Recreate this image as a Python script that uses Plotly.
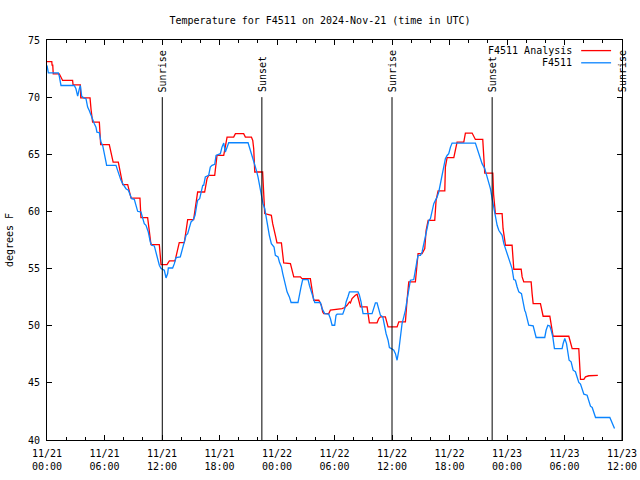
import pandas as pd
import plotly.graph_objects as go

# ---------------- data ----------------
BASE = "2024-11-21 00:00"

obs_hours = [0.0, 0.14, 1.18, 1.28, 1.46, 2.85, 3.02, 3.2, 3.37, 3.48, 3.62, 3.82, 4.07, 4.24, 4.41, 4.59, 4.76, 4.94,
             5.11, 5.21, 5.46, 5.63, 5.81, 5.98, 6.16, 6.22, 7.2, 7.37, 7.55, 7.72, 7.9, 8.07, 8.24, 8.49, 8.7, 8.83,
             9.11, 9.29, 9.46, 9.81, 9.98, 10.15, 10.33, 10.57, 10.78, 10.92, 11.2, 11.37, 11.55, 11.72, 11.9, 12.24,
             12.42, 12.59, 12.66, 13.11, 13.29, 13.46, 13.91, 14.05, 14.16, 14.33, 14.51, 14.68, 14.86, 15.03, 15.27,
             15.45, 15.62, 15.72, 15.93, 16.07, 16.25, 16.35, 16.52, 16.87, 17.04, 17.22, 17.5, 17.64, 18.09, 18.26,
             18.44, 18.61, 18.79, 18.96, 20.98, 21.12, 21.33, 21.47, 21.68, 21.85, 22.02, 22.19, 22.37, 22.54, 22.72,
             22.86, 23.07, 23.2, 23.41, 23.69, 23.83, 24.11, 24.25, 24.46, 24.6, 24.81, 25.05, 25.29, 25.47, 26.19,
             26.33, 26.51, 26.68, 27.24, 27.38, 27.59, 27.83, 27.94, 28.53, 28.7, 28.98, 29.4, 29.57, 29.75, 30.02,
             30.16, 30.27, 30.86, 31.07, 31.21, 31.42, 31.56, 32.46, 32.6, 32.77, 32.98, 33.92, 34.1, 34.27, 34.44,
             34.62, 34.79, 35.04, 35.24, 35.38, 35.59, 35.73, 35.94, 36.19, 36.36, 36.53, 36.71, 36.88, 37.05, 37.23,
             37.4, 37.57, 37.75, 37.92, 38.27, 38.44, 38.62, 38.72, 38.97, 39.14, 39.31, 39.49, 39.66, 39.84, 40.01,
             40.19, 40.36, 40.53, 40.71, 40.88, 41.05, 41.23, 41.4, 41.57, 41.75, 41.92, 42.1, 42.27, 44.7, 44.88,
             45.05, 45.4, 45.68, 45.82, 46.03, 46.27, 46.45, 46.62, 46.79, 46.97, 47.14, 47.32, 47.49, 47.67, 47.84,
             48.01, 48.19, 48.36, 48.53, 48.71, 48.88, 49.06, 49.23, 49.51, 49.65, 49.86, 49.93, 50.1, 50.27, 50.73,
             50.87, 51.04, 51.94, 52.08, 52.26, 52.47, 52.61, 52.78, 52.95, 53.75, 53.86, 54.03, 54.21, 54.34, 54.48,
             54.69, 54.9, 55.14, 55.32, 55.49, 55.67, 55.84, 56.02, 56.36, 56.54, 56.71, 56.89, 57.06, 57.24, 58.73,
             58.9, 59.08, 59.22]
obs_temps = [72.77, 72.13, 72.13, 71.84, 71.02, 71.02, 70.73, 70.09, 70.73, 71.02, 70.09, 69.94, 69.86, 69.13, 68.84,
             68.4, 67.96, 67.67, 67.38, 66.94, 66.89, 66.07, 65.78, 65.19, 64.32, 64.03, 64.03, 63.59, 63.01, 62.72,
             62.43, 62.14, 61.99, 61.85, 61.27, 61.12, 61.06, 60.39, 60.01, 59.95, 59.37, 58.93, 58.78, 58.2, 57.33,
             57.04, 56.98, 56.46, 56.02, 55.29, 55.0, 54.85, 54.18, 54.56, 55.05, 55.05, 55.43, 55.96, 56.02, 56.46,
             56.75, 57.19, 57.91, 58.05, 58.55, 59.08, 59.28, 59.66, 60.53, 60.97, 61.12, 61.7, 62.28, 62.28, 63.01,
             63.16, 63.88, 64.03, 64.12, 64.9, 65.05, 65.63, 65.98, 65.19, 65.63, 66.01, 66.01, 65.63, 65.05, 64.61,
             64.18, 63.59, 63.01, 62.14, 61.26, 60.68, 60.24, 59.51, 58.64, 57.91, 57.18, 56.89, 56.16, 56.02, 55.58,
             55.14, 54.56, 53.69, 52.96, 52.52, 52.03, 52.03, 52.52, 53.39, 54.04, 54.04, 53.54, 52.96, 52.23, 52.03,
             52.03, 51.5, 51.06, 51.01, 50.63, 50.04, 50.04, 50.92, 51.01, 51.01, 51.5, 52.08, 52.58, 52.96, 52.96,
             52.67, 52.08, 51.06, 51.06, 51.5, 52.0, 52.0, 51.36, 50.92, 50.77, 49.9, 49.32, 48.73, 48.09, 48.0, 47.85,
             47.56, 46.98, 47.85, 49.02, 50.19, 50.77, 51.36, 52.23, 53.39, 53.98, 54.04, 54.71, 55.73, 56.16, 56.16,
             56.45, 57.18, 57.91, 58.79, 59.22, 59.37, 60.1, 60.68, 60.97, 61.26, 61.7, 62.43, 62.86, 63.74, 64.61,
             64.9, 65.05, 65.63, 65.98, 65.98, 65.49, 65.05, 64.18, 63.74, 63.3, 62.72, 61.99, 61.12, 60.24, 59.51,
             58.79, 58.35, 58.06, 57.91, 57.18, 56.75, 56.31, 56.02, 55.58, 55.0, 54.04, 53.98, 53.39, 52.96, 52.81,
             52.08, 51.3, 51.21, 50.48, 50.04, 49.98, 49.46, 48.97, 48.97, 49.6, 50.04, 49.98, 49.6, 49.02, 48.0, 48.0,
             48.44, 48.88, 48.44, 47.71, 46.98, 46.84, 46.11, 45.97, 45.53, 45.04, 44.89, 44.37, 44.01, 43.92, 43.49,
             42.96, 42.85, 42.38, 41.97, 41.97, 41.68, 41.31, 41.0]

ana_hours = [0.0, 0.5, 0.53, 0.6, 0.65, 1.28, 1.63, 2.67, 2.72, 3.48, 3.52, 4.49, 4.6, 4.76, 5.46, 5.6, 6.5, 6.9, 7.44,
             7.9, 8.42, 8.77, 9.7, 9.8, 10.5, 10.85, 11.72, 11.9, 12.52, 12.77, 13.36, 13.8, 14.33, 14.68, 15.3, 15.72,
             15.83, 16.45, 16.7, 16.87, 17.5, 17.64, 17.74, 18.44, 18.61, 18.79, 19.48, 19.66, 20.52, 20.7, 21.33,
             21.47, 21.57, 21.68, 22.5, 22.58, 22.72, 23.41, 23.55, 23.83, 24.0, 24.46, 24.6, 24.7, 25.4, 25.57, 25.75,
             26.44, 26.61, 27.48, 27.66, 27.83, 28.36, 28.63, 28.77, 28.88, 29.4, 29.57, 30.79, 31.07, 31.31, 31.56,
             31.66, 31.83, 32.18, 32.36, 32.53, 32.7, 33.4, 33.57, 33.64, 34.44, 34.62, 34.79, 35.31, 35.59, 36.53,
             36.71, 37.4, 37.57, 37.75, 38.44, 38.62, 38.72, 39.14, 39.42, 39.56, 39.77, 40.46, 40.6, 40.81, 41.51,
             41.57, 41.75, 42.45, 42.62, 42.79, 43.49, 43.66, 44.36, 44.7, 45.47, 45.68, 46.52, 46.6, 46.79, 47.49,
             47.59, 47.73, 47.84, 48.53, 48.64, 48.71, 49.48, 49.58, 49.75, 50.52, 50.62, 50.73, 51.49, 51.66, 51.77,
             52.47, 52.61, 52.81, 54.45, 54.56, 54.8, 55.49, 55.6, 55.67, 56.02, 56.19, 56.54, 57.48]
ana_temps = [73.1, 73.1, 72.8, 72.8, 72.04, 72.04, 71.46, 71.46, 71.08, 71.08, 69.94, 69.94, 68.9, 67.82, 67.82, 65.84,
             65.84, 64.32, 64.32, 62.34, 62.34, 61.17, 61.17, 59.46, 59.46, 57.1, 57.1, 55.35, 55.35, 55.67, 55.67,
             57.27, 57.27, 59.28, 59.28, 61.7, 61.7, 61.7, 62.86, 63.16, 63.16, 64.18, 64.9, 64.9, 65.78, 66.51, 66.51,
             66.8, 66.8, 66.51, 66.51, 66.21, 65.49, 63.45, 63.45, 61.55, 59.81, 59.66, 58.93, 57.91, 57.24, 57.24,
             56.31, 55.49, 55.43, 54.85, 54.27, 54.27, 54.12, 54.12, 53.1, 52.23, 52.23, 51.79, 51.21, 51.06, 51.06,
             51.36, 51.5, 51.59, 51.79, 52.08, 52.0, 52.37, 52.67, 52.75, 52.23, 51.65, 51.65, 50.77, 50.25, 50.25,
             50.63, 50.77, 50.77, 49.9, 49.9, 50.34, 50.34, 52.23, 53.83, 53.83, 55.14, 56.31, 56.31, 56.75, 58.35,
             59.22, 59.22, 60.97, 61.79, 61.79, 63.88, 64.7, 64.7, 65.49, 66.07, 66.07, 66.86, 66.86, 66.3, 66.3,
             63.36, 63.36, 61.5, 59.81, 59.81, 58.49, 57.33, 57.04, 57.04, 55.87, 54.94, 54.94, 54.27, 53.83, 53.83,
             52.81, 51.94, 51.94, 51.21, 50.83, 50.83, 50.04, 49.08, 49.08, 48.73, 48.0, 48.0, 46.4, 45.3, 45.3, 45.53,
             45.62, 45.65]

sun_hours = [12.03, 22.42, 36.0, 46.45, 60.0]
sun_labels = ["Sunrise", "Sunset", "Sunrise", "Sunset", "Sunrise"]
SUN_LINE_TOP = 70

series_names = ["F4511 Analysis", "F4511"]
series_colors = ["#ff0000", "#0a84ff"]

Y_RANGE = [40, 75]
X_SPAN_HOURS = 60

# ---------------- figure ----------------
base = pd.Timestamp(BASE)


def to_time(hours):
    return [base + pd.Timedelta(hours=h) for h in hours]


FONT = "DejaVu Sans Mono"
fig = go.Figure()

fig.add_trace(go.Scatter(x=to_time(ana_hours), y=ana_temps, mode="lines",
                         line=dict(color=series_colors[0], width=1.3), name=series_names[0],
                         showlegend=False))
fig.add_trace(go.Scatter(x=to_time(obs_hours), y=obs_temps, mode="lines",
                         line=dict(color=series_colors[1], width=1.3), name=series_names[1],
                         showlegend=False))

for t, lab in zip(to_time(sun_hours), sun_labels):
    fig.add_shape(type="line", xref="x", yref="y", x0=t, x1=t, y0=Y_RANGE[0], y1=SUN_LINE_TOP,
                  line=dict(color="black", width=1))
    fig.add_annotation(x=t, y=SUN_LINE_TOP, xref="x", yref="y", text=lab, textangle=-90,
                       showarrow=False, xanchor="center", yanchor="bottom", yshift=3,
                       font=dict(family=FONT, size=10, color="black"))

# custom gnuplot-style legend (text then line sample)
legend_rows = [0.9735, 0.943]
for name, color, yy in zip(series_names, series_colors, legend_rows):
    fig.add_annotation(x=0.917, y=yy, xref="paper", yref="paper", text=name, showarrow=False,
                       xanchor="right", yanchor="middle", font=dict(family=FONT, size=10, color="black"))
    fig.add_shape(type="line", xref="paper", yref="paper", x0=0.929, x1=0.981, y0=yy, y1=yy,
                  line=dict(color=color, width=1.3))

fig.add_annotation(x=-0.066, y=0.5, xref="paper", yref="paper", text="degrees F", textangle=-90,
                   showarrow=False, xanchor="center", yanchor="middle",
                   font=dict(family=FONT, size=10, color="black"))

fig.update_layout(
    width=640, height=480,
    margin=dict(l=47, r=18, t=40, b=40, autoexpand=False),
    paper_bgcolor="white", plot_bgcolor="white",
    font=dict(family=FONT, size=10, color="black"),
    title=dict(text="Temperature for F4511 on 2024-Nov-21 (time in UTC)", x=0.5, xanchor="center",
               y=1 - 20 / 480, yanchor="middle", yref="container",
               font=dict(family=FONT, size=10, color="black")),
    showlegend=False,
)

fig.update_xaxes(
    type="date", automargin=False,
    range=[base, base + pd.Timedelta(hours=X_SPAN_HOURS)],
    tick0=base, dtick=6 * 3600 * 1000, tickformat="%m/%d<br>%H:%M",
    ticks="inside", ticklen=5, tickcolor="black", tickwidth=1,
    minor=dict(ticks="inside", ticklen=3, dtick=2 * 3600 * 1000, tick0=base, tickcolor="black", showgrid=False),
    showline=True, linecolor="black", linewidth=1, mirror="allticks",
    showgrid=False, zeroline=False, ticklabelstandoff=4,
    tickfont=dict(family=FONT, size=10, color="black"),
)
fig.update_yaxes(
    automargin=False,
    range=Y_RANGE, dtick=5, tick0=40,
    ticks="inside", ticklen=5, tickcolor="black", tickwidth=1,
    showline=True, linecolor="black", linewidth=1, mirror="allticks",
    showgrid=False, zeroline=False, ticklabelstandoff=4,
    tickfont=dict(family=FONT, size=10, color="black"),
)

fig.write_html("out.html",
               config={"displayModeBar": False},
               post_script="document.body.style.margin='0';document.body.style.padding='0';"
                           "document.body.style.overflow='hidden';")
